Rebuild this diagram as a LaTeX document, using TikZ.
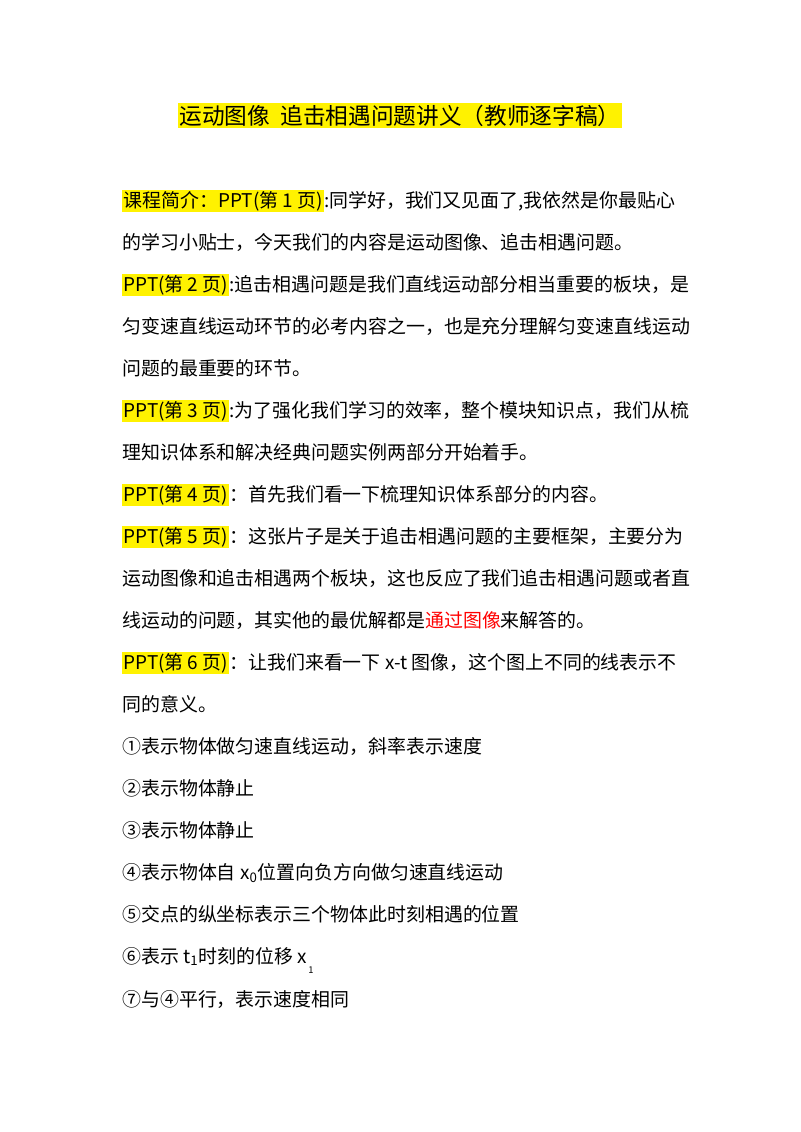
\documentclass[tikz,border=0pt]{standalone}
\usepackage{fontspec}
\setmainfont{Noto Sans CJK SC}
\tikzset{
  line/.style={anchor=base west,inner sep=0pt,font=\fontsize{14.2}{17}\selectfont},
  ttl/.style={anchor=base,inner sep=0pt,font=\fontsize{17}{21}\selectfont}
}
\newcommand{\hl}[1]{{\setlength{\fboxsep}{1pt}\colorbox{yellow}{#1}}}
\begin{document}
\begin{tikzpicture}[x=0.75pt,y=-0.75pt]
\useasboundingbox (0,0) rectangle (800,1132);
\node[ttl] (title) at (400,124) {\hl{运动图像\ \ 追击相遇问题讲义（教师逐字稿）}};
\node[line] (l1) at (122,207) {\hl{课程简介：PPT(第 1 页)}:同学好，我们又见面了,我依然是你最贴心};
\node[line] (l2) at (122,249) {的学习小贴士，今天我们的内容是运动图像、追击相遇问题。};
\node[line] (l3) at (122,291) {\hl{PPT(第 2 页)}:追击相遇问题是我们直线运动部分相当重要的板块，是};
\node[line] (l4) at (122,333) {匀变速直线运动环节的必考内容之一，也是充分理解匀变速直线运动};
\node[line] (l5) at (122,375) {问题的最重要的环节。};
\node[line] (l6) at (122,417) {\hl{PPT(第 3 页)}:为了强化我们学习的效率，整个模块知识点，我们从梳};
\node[line] (l7) at (122,459) {理知识体系和解决经典问题实例两部分开始着手。};
\node[line] (l8) at (122,501) {\hl{PPT(第 4 页)}：首先我们看一下梳理知识体系部分的内容。};
\node[line] (l9) at (122,543) {\hl{PPT(第 5 页)}：这张片子是关于追击相遇问题的主要框架，主要分为};
\node[line] (l10) at (122,585) {运动图像和追击相遇两个板块，这也反应了我们追击相遇问题或者直};
\node[line] (l11) at (122,627) {线运动的问题，其实他的最优解都是\textcolor{red}{通过图像}来解答的。};
\node[line] (l12) at (122,669) {\hl{PPT(第 6 页)}：让我们来看一下 x-t 图像，这个图上不同的线表示不};
\node[line] (l13) at (122,711) {同的意义。};
\node[line] (l14) at (122,753) {①表示物体做匀速直线运动，斜率表示速度};
\node[line] (l15) at (122,795) {②表示物体静止};
\node[line] (l16) at (122,837) {③表示物体静止};
\node[line] (l17) at (122,879) {④表示物体自 x\textsubscript{0}位置向负方向做匀速直线运动};
\node[line] (l18) at (122,921) {⑤交点的纵坐标表示三个物体此时刻相遇的位置};
\node[line] (l19) at (122,963) {⑥表示 t\textsubscript{1}时刻的位移 x};
\node[anchor=base,inner sep=0pt,font=\fontsize{7}{8}\selectfont] (s19) at (311,973) {1};
\node[line] (l20) at (122,1006) {⑦与④平行，表示速度相同};
\end{tikzpicture}
\end{document}
